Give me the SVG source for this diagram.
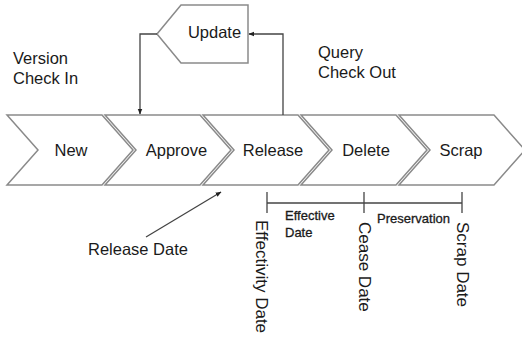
<svg xmlns="http://www.w3.org/2000/svg" width="522" height="337" viewBox="0 0 522 337">
<style>
text{font-family:"Liberation Sans",Arial,sans-serif;fill:#1a1a1a}
.t{font-size:16.5px}
.v{font-size:17px}
.s{font-size:13px;stroke:#1a1a1a;stroke-width:0.3}
.chev{fill:#fff;stroke:#8a8a8a;stroke-width:1.5;stroke-linejoin:miter}
.ln{fill:none;stroke:#444;stroke-width:1.3}
</style>
<defs>
<marker id="ah" viewBox="0 0 10 10" refX="9" refY="5" markerWidth="6" markerHeight="6" orient="auto" markerUnits="userSpaceOnUse">
<path d="M0,1 L10,5 L0,9 Z" fill="#222"/>
</marker>
</defs>
<rect width="522" height="337" fill="#fff"/>
<g id="scrap"><polygon class="chev" points="399,115 494,115 525,150 494,185 399,185 430,150"/><text class="t" x="461" y="156" text-anchor="middle">Scrap</text></g>
<g id="delete"><polygon class="chev" points="301,115 396,115 427,150 396,185 301,185 332,150"/><text class="t" x="366" y="156" text-anchor="middle">Delete</text></g>
<g id="release"><polygon class="chev" points="203,115 298,115 329,150 298,185 203,185 234,150"/><text class="t" x="273" y="156" text-anchor="middle">Release</text></g>
<g id="approve"><polygon class="chev" points="105,115 200,115 231,150 200,185 105,185 136,150"/><text class="t" x="176.5" y="156" text-anchor="middle">Approve</text></g>
<g id="new"><polygon class="chev" points="7,115 102,115 133,150 102,185 7,185 38,150"/><text class="t" x="71" y="156" text-anchor="middle">New</text></g>
<g id="update"><polygon class="chev" points="157,34 181,5 248,5 248,63 181,63"/><text class="t" x="214.5" y="38" text-anchor="middle">Update</text></g>
<g id="labels">
<text class="t" x="13" y="64">Version</text>
<text class="t" x="13" y="84">Check In</text>
<text class="t" x="318" y="58">Query</text>
<text class="t" x="318" y="78">Check Out</text>
<text class="t" x="88" y="255">Release Date</text>
<text class="s" x="285" y="220">Effective</text>
<text class="s" x="285" y="237">Date</text>
<text class="s" x="377" y="223">Preservation</text>
<text class="v" transform="translate(256,220) rotate(90)">Effectivity Date</text>
<text class="v" transform="translate(359,222) rotate(90)">Cease Date</text>
<text class="v" transform="translate(457,222) rotate(90)">Scrap Date</text>
</g>
<g id="connectors">
<polyline class="ln" points="157,34 140,34 140,114" marker-end="url(#ah)"/>
<polyline class="ln" points="283,115 283,34 249,34" marker-end="url(#ah)"/>
<line class="ln" x1="146" y1="237" x2="221" y2="192" marker-end="url(#ah)"/>
<line class="ln" x1="267" y1="203" x2="462" y2="203"/>
<line class="ln" x1="267" y1="192" x2="267" y2="213"/>
<line class="ln" x1="364" y1="192" x2="364" y2="213"/>
<line class="ln" x1="462" y1="192" x2="462" y2="213"/>
</g>
</svg>
